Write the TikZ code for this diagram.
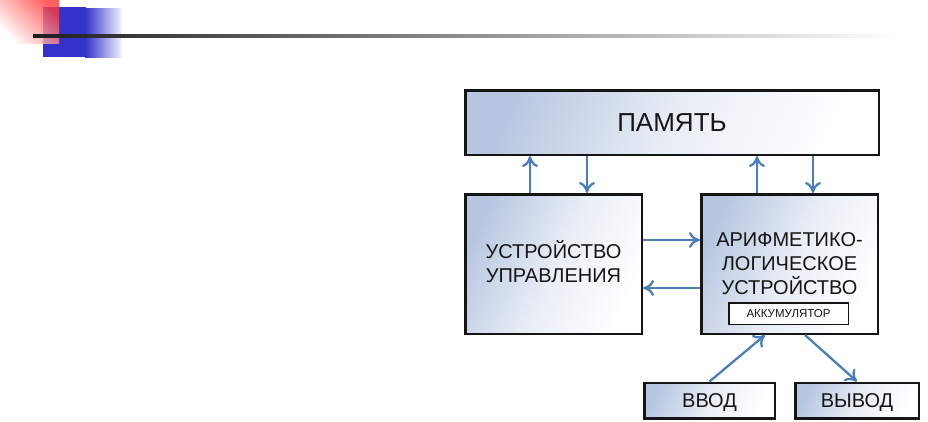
\documentclass[tikz,border=0pt]{standalone}
\usepackage{fontspec}
\setmainfont{Liberation Sans}
\usetikzlibrary{arrows.meta,calc}
\definecolor{boxblue}{HTML}{B8C7E1}
\definecolor{arrblue}{HTML}{4A7EBB}
\definecolor{decoblue}{HTML}{3333CC}
\definecolor{decored}{HTML}{FF3838}
\definecolor{inkblack}{HTML}{151515}
\begin{document}
\begin{tikzpicture}[x=1bp,y=-1bp,
  box/.style={draw=inkblack, line width=2.5bp, inner sep=0pt, top color=boxblue, bottom color=white, middle color=boxblue!32!white, shading angle=65},
  accbox/.style={draw=inkblack, line width=1.5bp, fill=white, inner sep=0pt},
  lbl/.style={font=\fontsize{20bp}{24bp}\selectfont, text=inkblack, anchor=base, inner sep=0pt},
  arr/.style={draw=arrblue, line width=2.3bp, -{Computer Modern Rightarrow[length=11bp,width=16bp]}}]
\useasboundingbox (0,0) rectangle (928,421);
% header decoration
\fill[decoblue] (43,7) rectangle (86,57);
\shade[left color=decoblue, right color=decoblue!8] (85,8) rectangle (121,57);
\shade[top color=decored, bottom color=white, shading angle=-45, fill opacity=0.8] (0,0) rectangle (59,43);
\shade[left color=black!88, right color=white] (33,34.5) rectangle (897,37.5);
% boxes
\node[box, minimum width=413.5bp, minimum height=64.5bp] (mem) at (672,122.5) {};
\node[box, minimum width=176.5bp, minimum height=139.5bp] (uu) at (553.5,264) {};
\node[box, minimum width=176.5bp, minimum height=139.5bp] (alu) at (789.5,264) {};
\node[accbox, minimum width=119.5bp, minimum height=21.5bp] (acc) at (788.5,313.5) {};
\node[box, minimum width=130.5bp, minimum height=35.5bp] (vvod) at (709.5,400.5) {};
\node[box, minimum width=123.5bp, minimum height=35.5bp] (vyvod) at (857,400.5) {};
% texts
\node[lbl, font=\fontsize{26bp}{30bp}\selectfont] (memt) at (672,131.8) {ПАМЯТЬ};
\node[lbl] (uut1) at (553.5,258.3) {УСТРОЙСТВО};
\node[lbl] (uut2) at (553.5,282.3) {УПРАВЛЕНИЯ};
\node[lbl] (alut1) at (789.5,246.7) {АРИФМЕТИКО-};
\node[lbl] (alut2) at (789.5,270.6) {ЛОГИЧЕСКОЕ};
\node[lbl] (alut3) at (789.5,294.6) {УСТРОЙСТВО};
\node[lbl, font=\fontsize{11.5bp}{13bp}\selectfont] (acct) at (788.5,317.6) {АККУМУЛЯТОР};
\node[lbl] (vvodt) at (709.5,407.6) {ВВОД};
\node[lbl] (vyvodt) at (857,407.6) {ВЫВОД};
% connectors
\draw[arr] (530,0 |- uu.north) -- (530,0 |- mem.south);
\draw[arr] (587,0 |- mem.south) -- (587,0 |- uu.north);
\draw[arr] (757,0 |- alu.north) -- (757,0 |- mem.south);
\draw[arr] (813,0 |- mem.south) -- (813,0 |- alu.north);
\draw[arr] (uu.east |- 0,240) -- (alu.west |- 0,240);
\draw[arr] (alu.west |- 0,288) -- (uu.east |- 0,288);
\draw[arr] (vvod.north) -- (765,0 |- alu.south);
\draw[arr] (805,0 |- alu.south) -- (vyvod.north);
\end{tikzpicture}
\end{document}
